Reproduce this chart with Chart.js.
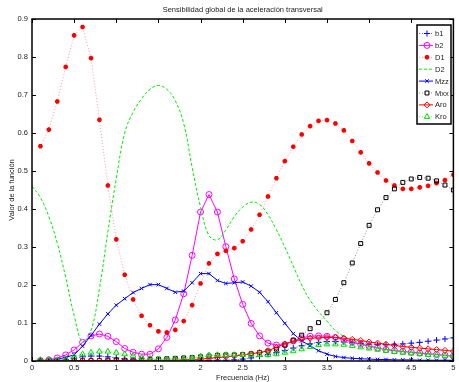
<!DOCTYPE html>
<html>
<head>
  <title>Sensibilidad global</title>
  <script src="https://cdn.jsdelivr.net/npm/chart.js"></script>
  <style>
    body { margin: 0; background: #fff; }
    canvas { display: block; }
  </style>
</head>
<body>
  <canvas id="sensChart" width="459" height="382"></canvas>

  <script>
    // frequencies (Hz) for the marker series, and for D2 (starts at 0)
    const freq = [0.1, 0.2, 0.3, 0.4, 0.5, 0.6, 0.7, 0.8, 0.9, 1.0,
                  1.1, 1.2, 1.3, 1.4, 1.5, 1.6, 1.7, 1.8, 1.9, 2.0,
                  2.1, 2.2, 2.3, 2.4, 2.5, 2.6, 2.7, 2.8, 2.9, 3.0,
                  3.1, 3.2, 3.3, 3.4, 3.5, 3.6, 3.7, 3.8, 3.9, 4.0,
                  4.1, 4.2, 4.3, 4.4, 4.5, 4.6, 4.7, 4.8, 4.9, 5.0];
    const freqD2 = [0, 0.1, 0.2, 0.3, 0.4, 0.5, 0.6, 0.7, 0.8, 0.9, 1.0,
                    1.1, 1.2, 1.3, 1.4, 1.5, 1.6, 1.7, 1.8, 1.9, 2.0,
                    2.1, 2.2, 2.3, 2.4, 2.5, 2.6, 2.7, 2.8, 2.9, 3.0,
                    3.1, 3.2, 3.3, 3.4, 3.5, 3.6, 3.7, 3.8, 3.9, 4.0,
                    4.1, 4.2, 4.3, 4.4, 4.5, 4.6, 4.7, 4.8, 4.9, 5.0];

    const b1 = [0.001, 0.001, 0.002, 0.004, 0.007, 0.011, 0.013, 0.013, 0.011, 0.008,
                0.005, 0.003, 0.002, 0.001, 0.001, 0.001, 0.001, 0.001, 0.001, 0.001,
                0.001, 0.002, 0.002, 0.003, 0.005, 0.008, 0.012, 0.017, 0.022, 0.028,
                0.034, 0.040, 0.045, 0.049, 0.051, 0.051, 0.050, 0.048, 0.046, 0.044,
                0.043, 0.043, 0.044, 0.045, 0.047, 0.049, 0.052, 0.055, 0.058, 0.061];
    const b2 = [0.001, 0.003, 0.008, 0.016, 0.029, 0.049, 0.066, 0.071, 0.065, 0.051,
                0.033, 0.023, 0.018, 0.018, 0.032, 0.062, 0.108, 0.177, 0.278, 0.392,
                0.438, 0.392, 0.301, 0.216, 0.149, 0.099, 0.066, 0.047, 0.042, 0.043,
                0.053, 0.061, 0.065, 0.066, 0.065, 0.062, 0.057, 0.050, 0.044, 0.039,
                0.034, 0.030, 0.027, 0.025, 0.023, 0.021, 0.019, 0.017, 0.015, 0.013];
    const D1 = [0.565, 0.609, 0.683, 0.774, 0.857, 0.879, 0.797, 0.635, 0.462, 0.320,
                0.227, 0.162, 0.119, 0.094, 0.078, 0.075, 0.082, 0.105, 0.147, 0.204,
                0.257, 0.282, 0.290, 0.297, 0.315, 0.346, 0.385, 0.433, 0.481, 0.526,
                0.564, 0.596, 0.618, 0.632, 0.634, 0.625, 0.607, 0.579, 0.549, 0.520,
                0.496, 0.475, 0.462, 0.453, 0.453, 0.457, 0.461, 0.468, 0.476, 0.490];
    const D2 = [0.46, 0.43, 0.38, 0.31, 0.22, 0.12, 0.05, 0.08, 0.19, 0.34, 0.48,
                0.60, 0.655, 0.69, 0.715, 0.725, 0.715, 0.685, 0.625, 0.51, 0.405,
                0.33, 0.319, 0.345, 0.38, 0.405, 0.418, 0.412, 0.385, 0.345, 0.30,
                0.25, 0.20, 0.16, 0.13, 0.105, 0.08, 0.065, 0.055, 0.046, 0.04,
                0.035, 0.031, 0.028, 0.025, 0.022, 0.02, 0.018, 0.016, 0.014, 0.012];
    const Mzz = [0.001, 0.002, 0.004, 0.010, 0.016, 0.039, 0.067, 0.097, 0.124, 0.147,
                 0.164, 0.180, 0.191, 0.201, 0.201, 0.191, 0.181, 0.184, 0.206, 0.230,
                 0.230, 0.212, 0.204, 0.206, 0.208, 0.197, 0.181, 0.156, 0.127, 0.099,
                 0.072, 0.053, 0.040, 0.027, 0.018, 0.012, 0.009, 0.007, 0.006, 0.005,
                 0.004, 0.004, 0.003, 0.003, 0.003, 0.002, 0.002, 0.002, 0.002, 0.002];
    const Mxx = [0.000, 0.000, 0.000, 0.000, 0.001, 0.001, 0.001, 0.001, 0.002, 0.002,
                 0.002, 0.003, 0.003, 0.004, 0.005, 0.006, 0.007, 0.008, 0.009, 0.011,
                 0.013, 0.015, 0.016, 0.016, 0.017, 0.019, 0.022, 0.026, 0.031, 0.042,
                 0.055, 0.068, 0.085, 0.101, 0.127, 0.162, 0.206, 0.258, 0.309, 0.357,
                 0.398, 0.430, 0.453, 0.470, 0.479, 0.483, 0.481, 0.474, 0.463, 0.450];
    const Aro = [0.001, 0.001, 0.001, 0.001, 0.001, 0.001, 0.001, 0.001, 0.001, 0.001,
                 0.001, 0.001, 0.001, 0.001, 0.002, 0.002, 0.002, 0.003, 0.004, 0.005,
                 0.007, 0.009, 0.011, 0.013, 0.016, 0.019, 0.022, 0.027, 0.036, 0.045,
                 0.052, 0.057, 0.060, 0.061, 0.062, 0.062, 0.060, 0.057, 0.054, 0.050,
                 0.047, 0.044, 0.041, 0.038, 0.036, 0.034, 0.032, 0.030, 0.028, 0.026];
    const Kro = [0.003, 0.003, 0.003, 0.005, 0.012, 0.018, 0.022, 0.025, 0.025, 0.022,
                 0.018, 0.014, 0.009, 0.006, 0.005, 0.005, 0.005, 0.006, 0.008, 0.012,
                 0.015, 0.016, 0.016, 0.016, 0.016, 0.016, 0.016, 0.016, 0.018, 0.022,
                 0.026, 0.031, 0.037, 0.042, 0.044, 0.044, 0.043, 0.040, 0.036, 0.033,
                 0.030, 0.027, 0.024, 0.022, 0.020, 0.018, 0.016, 0.015, 0.014, 0.013];

    const xTicks = [0, 0.5, 1, 1.5, 2, 2.5, 3, 3.5, 4, 4.5, 5];
    const yTicks = [0, 0.1, 0.2, 0.3, 0.4, 0.5, 0.6, 0.7, 0.8, 0.9];

    const FONT = '"Liberation Sans", Arial, sans-serif';

    const pts = (xs, ys) => ys.map((y, i) => ({ x: xs[i], y: y }));

    // one helper per series so the options stay short
    function series(label, xs, ys, color, lineColor, dash, style, radius, order) {
      return {
        label: label,
        data: pts(xs, ys),
        borderColor: lineColor,
        borderWidth: 1,
        borderDash: dash,
        pointStyle: style,
        pointRadius: style ? radius : 0,
        pointBorderColor: color,
        pointBackgroundColor: 'rgba(0,0,0,0)',
        pointBorderWidth: 1,
        tension: 0,
        order: order,
        markerColor: color
      };
    }

    const datasets = [
      series('b1', freq, b1, '#0000ff', '#6666ff', [1, 2], 'cross', 3, 8),
      series('b2', freq, b2, '#ff00ff', '#ff00ff', [], 'circle', 3, 7),
      series('D1', freq, D1, '#ff0000', '#ff9999', [1, 2], 'star', 2.3, 6),
      series('D2', freqD2, D2, '#00ff00', '#00ee00', [3, 2], false, 0, 5),
      series('Mzz', freq, Mzz, '#0000ff', '#0000ff', [], 'crossRot', 2.5, 4),
      series('Mxx', freq, Mxx, '#000000', '#888888', [1, 2], 'rect', 2.8, 3),
      series('Aro', freq, Aro, '#ff0000', '#ff0000', [], 'rectRot', 3, 2),
      series('Kro', freq, Kro, '#00dd00', '#66ee66', [1, 2], 'triangle', 3.2, 1)
    ];
    datasets[2].pointBorderWidth = 1.6;
    datasets[2].pointBackgroundColor = '#ff0000';
    datasets[3].tension = 0.4;

    // box, inward ticks on all four sides, title and legend (matlab look)
    const matlabFrame = {
      id: 'matlabFrame',
      afterDatasetsDraw(chart) {
        const ctx = chart.ctx;
        const a = chart.chartArea;
        const xs = chart.scales.x, ys = chart.scales.y;
        ctx.save();
        ctx.strokeStyle = '#000';
        ctx.lineWidth = 1;
        ctx.beginPath();
        xTicks.forEach(v => {
          const px = Math.round(xs.getPixelForValue(v)) + 0.5;
          ctx.moveTo(px, a.bottom); ctx.lineTo(px, a.bottom - 4);
          ctx.moveTo(px, a.top); ctx.lineTo(px, a.top + 4);
        });
        yTicks.forEach(v => {
          const py = Math.round(ys.getPixelForValue(v)) + 0.5;
          ctx.moveTo(a.left, py); ctx.lineTo(a.left + 4, py);
          ctx.moveTo(a.right, py); ctx.lineTo(a.right - 4, py);
        });
        ctx.stroke();
        ctx.lineWidth = 1.5;
        ctx.strokeRect(a.left, a.top, a.right - a.left, a.bottom - a.top);

        // title
        ctx.fillStyle = '#222';
        ctx.font = '7.5px ' + FONT;
        ctx.textAlign = 'center';
        ctx.textBaseline = 'middle';
        ctx.fillText('Sensibilidad global de la aceleración transversal', (a.left + a.right) / 2, 10);

        // legend
        const lx = 417, ly = 25, lw = 34, lh = 99;
        ctx.fillStyle = '#fff';
        ctx.fillRect(lx, ly, lw, lh);
        ctx.lineWidth = 1.5;
        ctx.strokeRect(lx, ly, lw, lh);
        ctx.beginPath();
        ctx.rect(lx, ly, lw, lh);
        ctx.clip();
        chart.data.datasets.forEach((ds, i) => {
          const y = ly + 8.5 + i * 11.9;
          ctx.save();
          ctx.strokeStyle = ds.borderColor;
          ctx.lineWidth = 1;
          ctx.setLineDash(ds.borderDash);
          ctx.beginPath();
          ctx.moveTo(lx + 2, y); ctx.lineTo(lx + 16, y);
          ctx.stroke();
          ctx.restore();
          if (ds.pointStyle && Chart.helpers && Chart.helpers.drawPoint) {
            ctx.save();
            ctx.strokeStyle = ds.markerColor;
            ctx.fillStyle = ds.pointBackgroundColor;
            ctx.lineWidth = ds.pointBorderWidth;
            Chart.helpers.drawPoint(ctx, {
              pointStyle: ds.pointStyle, radius: ds.pointRadius, rotation: 0, borderWidth: ds.pointBorderWidth
            }, lx + 10, y);
            ctx.restore();
          }
          ctx.fillStyle = '#222';
          ctx.font = '7.5px ' + FONT;
          ctx.textAlign = 'left';
          ctx.fillText(ds.label, lx + 18, y + 0.5);
        });
        ctx.restore();
      }
    };

    new Chart(document.getElementById('sensChart'), {
      type: 'line',
      data: { datasets: datasets },
      options: {
        responsive: false,
        animation: false,
        layout: { padding: { top: 19, right: 1, left: 0, bottom: 0 } },
        plugins: {
          legend: { display: false },
          title: { display: false },
          tooltip: { enabled: false }
        },
        scales: {
          x: {
            type: 'linear',
            min: 0, max: 5,
            afterBuildTicks: s => { s.ticks = xTicks.map(v => ({ value: v })); },
            afterFit: s => { s.height = 21; },
            grid: { display: false, drawTicks: false },
            border: { display: false },
            ticks: {
              padding: 2, maxRotation: 0, autoSkip: false,
              color: '#222', font: { family: FONT, size: 7.5 },
              callback: v => String(v)
            },
            title: {
              display: true, text: 'Frecuencia (Hz)', color: '#222',
              font: { family: FONT, size: 7.5 }, padding: 0
            }
          },
          y: {
            min: 0, max: 0.9,
            afterBuildTicks: s => { s.ticks = yTicks.map(v => ({ value: v })); },
            afterFit: s => { s.width = 32; },
            grid: { display: false, drawTicks: false },
            border: { display: false },
            ticks: {
              padding: 4, autoSkip: false,
              color: '#222', font: { family: FONT, size: 7.5 },
              callback: v => String(Math.round(v * 10) / 10)
            },
            title: {
              display: true, text: 'Valor de la función', color: '#222',
              font: { family: FONT, size: 7.5 }, padding: { top: 7, bottom: 0 }
            }
          }
        }
      },
      plugins: [matlabFrame]
    });
  </script>
</body>
</html>
